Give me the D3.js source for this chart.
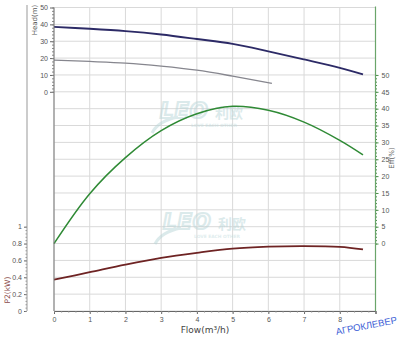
<!DOCTYPE html>
<html>
<head>
<meta charset="utf-8">
<script src="https://cdn.jsdelivr.net/npm/d3@7"></script>
<style>
  body { margin: 0; background: #fff; }
  svg { display: block; font-family: "DejaVu Sans", sans-serif; }
  .tick text { fill: #555; font-size: 7px; }
</style>
</head>
<body>
<div class="chart"></div>
<script>
// pump curves
const headFlow = [0, 1, 2, 3, 4, 5, 6, 7, 8, 8.65];
const headMain = [38.5, 37.4, 36, 34, 31.3, 28.4, 24, 19.2, 14.2, 10.3];
const smallFlow = [0, 1, 2, 3, 4, 5, 6.1];
const headSmall = [18.8, 18, 17, 15.2, 12.8, 9.3, 5];
const effFlow = [0, 1, 2, 3, 4, 5, 6, 7, 8, 8.65];
const effValues = [0, 14.8, 25.5, 33.5, 38.5, 40.7, 39.5, 36, 30.6, 26.3];
const powerFlow = [0, 1, 2, 3, 4, 5, 6, 7, 8, 8.65];
const powerValues = [0.371, 0.46, 0.55, 0.63, 0.69, 0.74, 0.763, 0.77, 0.76, 0.73];

const flowTicks = [0, 1, 2, 3, 4, 5, 6, 7, 8, 9];
const headTicks = [0, 10, 20, 30, 40, 50];
const effTicks = [0, 5, 10, 15, 20, 25, 30, 35, 40, 45, 50];
const powerTicks = [0, 0.2, 0.4, 0.6, 0.8, 1];

const width = 400, height = 339;
const plotTop = 7.5, plotBottom = 311, rows = 18;
const rowH = (plotBottom - plotTop) / rows;

const svg = d3.select(".chart").append("svg")
  .attr("width", width).attr("height", height);

const x = d3.scaleLinear().domain([0, 9]).range([54, 375.5]);
const yHead = d3.scaleLinear().domain([0, 50]).range([plotTop + 5 * rowH, plotTop]);
const yEff = d3.scaleLinear().domain([0, 50]).range([plotTop + 14 * rowH, plotTop + 4 * rowH]);
const yPow = d3.scaleLinear().domain([0, 1]).range([plotBottom, plotTop + 13 * rowH]);

// grid
const grid = svg.append("g").attr("stroke", "#d9d9d9").attr("stroke-width", 1);
grid.selectAll("line.h").data(d3.range(rows + 1)).join("line")
  .attr("class", "h")
  .attr("x1", x(0)).attr("x2", x(9))
  .attr("y1", i => plotTop + i * rowH).attr("y2", i => plotTop + i * rowH);
grid.selectAll("line.v").data(flowTicks).join("line")
  .attr("class", "v")
  .attr("x1", d => x(d)).attr("x2", d => x(d))
  .attr("y1", plotTop).attr("y2", plotBottom);

// watermarks
function watermark(x0, y0) {
  const g = svg.append("g").attr("transform", `translate(${x0},${y0})`).attr("opacity", 0.5);
  g.append("path")
    .attr("d", "M-8,15 Q-2,3 18,-1")
    .attr("fill", "none").attr("stroke", "#b9d6d8").attr("stroke-width", 3);
  g.append("text").text("LEO")
    .attr("x", 0).attr("y", 0)
    .attr("font-size", 21).attr("font-style", "italic").attr("font-weight", "bold")
    .attr("fill", "none").attr("stroke", "#b9d6d8").attr("stroke-width", 2.2)
    .attr("letter-spacing", 1);
  g.append("text").text("利欧")
    .attr("x", 55).attr("y", 0)
    .attr("font-family", "Noto Sans CJK SC").attr("font-size", 14).attr("font-weight", "bold")
    .attr("fill", "#b9d6d8");
  g.append("text").text("LOVE EACH OTHER")
    .attr("x", 31).attr("y", 9)
    .attr("font-size", 4.4).attr("font-weight", "bold")
    .attr("fill", "#c2dcde");
}
watermark(160, 118);
watermark(163, 229);

// curves
const line = d3.line().curve(d3.curveCatmullRom.alpha(0.5));
function drawCurve(xs, ys, yScale, color, w) {
  svg.append("path")
    .attr("d", line(xs.map((q, i) => [x(q), yScale(ys[i])])))
    .attr("fill", "none").attr("stroke", color).attr("stroke-width", w);
}
drawCurve(smallFlow, headSmall, yHead, "#86868e", 1.3);
drawCurve(headFlow, headMain, yHead, "#2c2a66", 1.9);
drawCurve(effFlow, effValues, yEff, "#2f8a35", 1.5);
drawCurve(powerFlow, powerValues, yPow, "#6e2323", 1.8);

// flow axis
const xAxis = svg.append("g").attr("transform", `translate(0,${plotBottom})`)
  .call(d3.axisBottom(x).tickValues(flowTicks).tickSize(3).tickPadding(3)
    .tickFormat(d => d === 9 ? "" : d));
xAxis.select(".domain").attr("stroke", "#666");
xAxis.selectAll(".tick line").attr("stroke", "#666");
svg.append("g").attr("transform", `translate(0,${plotBottom})`)
  .call(d3.axisBottom(x).tickValues(d3.range(0, 9.01, 0.2)).tickSize(1.5).tickFormat(""))
  .call(g => g.select(".domain").remove())
  .selectAll("line").attr("stroke", "#888");

// head axis
const hAxis = svg.append("g").attr("transform", `translate(${x(0)},0)`)
  .call(d3.axisLeft(yHead).tickValues(headTicks).tickSize(4).tickPadding(2));
hAxis.select(".domain").remove();
hAxis.selectAll(".tick line").attr("stroke", "#666");
svg.append("g").attr("transform", `translate(${x(0)},0)`)
  .call(d3.axisLeft(yHead).tickValues(d3.range(0, 50.1, 2)).tickSize(2).tickFormat(""))
  .call(g => g.select(".domain").remove())
  .selectAll("line").attr("stroke", "#888");
svg.append("line")
  .attr("x1", x(0)).attr("x2", x(0)).attr("y1", plotTop).attr("y2", plotBottom)
  .attr("stroke", "#777");

// power axis
const pX = 27;
const pAxis = svg.append("g").attr("transform", `translate(${pX},0)`)
  .call(d3.axisLeft(yPow).tickValues(powerTicks).tickSize(3).tickPadding(2)
    .tickFormat(d => d === 0 || d === 1 ? d : d3.format(".1f")(d)));
pAxis.select(".domain").remove();
pAxis.selectAll(".tick line").attr("stroke", "#666");
svg.append("g").attr("transform", `translate(${pX},0)`)
  .call(d3.axisLeft(yPow).tickValues(d3.range(0, 1.001, 0.04)).tickSize(1.5).tickFormat(""))
  .call(g => g.select(".domain").remove())
  .selectAll("line").attr("stroke", "#999");
svg.append("line")
  .attr("x1", pX).attr("x2", pX).attr("y1", 5).attr("y2", plotBottom)
  .attr("stroke", "#999");

// efficiency axis
const eAxis = svg.append("g").attr("transform", `translate(${x(9)},0)`)
  .call(d3.axisRight(yEff).tickValues(effTicks).tickSize(3).tickPadding(3));
eAxis.select(".domain").remove();
eAxis.selectAll(".tick line").attr("stroke", "#4d8f4d");
svg.append("g").attr("transform", `translate(${x(9)},0)`)
  .call(d3.axisRight(yEff).tickValues(d3.range(0, 50.1, 1)).tickSize(1.5).tickFormat(""))
  .call(g => g.select(".domain").remove())
  .selectAll("line").attr("stroke", "#4d8f4d");
svg.append("line")
  .attr("x1", x(9)).attr("x2", x(9)).attr("y1", plotTop - 1).attr("y2", plotBottom)
  .attr("stroke", "#6aa56a").attr("stroke-width", 1.2);

// titles
svg.append("text").text("Flow(m³/h)")
  .attr("x", 205).attr("y", 333).attr("text-anchor", "middle")
  .attr("font-size", 9).attr("fill", "#444");
svg.append("text").text("Head(m)")
  .attr("transform", "translate(37,20) rotate(-90)").attr("text-anchor", "middle")
  .attr("font-size", 7).attr("fill", "#555");
svg.append("text").text("P2(kW)")
  .attr("transform", "translate(10,290) rotate(-90)").attr("text-anchor", "middle")
  .attr("font-size", 7.5).attr("fill", "#8a4a4a");
svg.append("text").text("Eff(%)")
  .attr("transform", "translate(394,158) rotate(-90)").attr("text-anchor", "middle")
  .attr("font-size", 7).attr("fill", "#666");

svg.append("text").text("АГРОКЛЕВЕР")
  .attr("transform", "translate(367,329) rotate(-11)").attr("text-anchor", "middle")
  .attr("font-family", "Liberation Sans, sans-serif")
  .attr("font-size", 9.5).attr("fill", "#3c5ed6");
</script>
</body>
</html>
